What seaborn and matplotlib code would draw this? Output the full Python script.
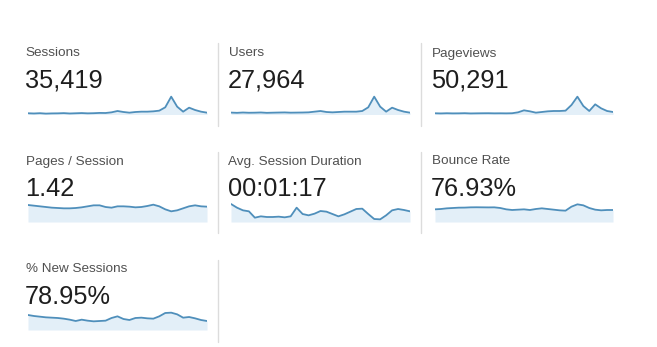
import matplotlib
matplotlib.use("Agg")
import matplotlib.pyplot as plt
from matplotlib.lines import Line2D
import seaborn as sns
import pandas as pd

sns.set_theme(style="white")
plt.rcParams['font.family'] = ['Liberation Sans', 'DejaVu Sans']

# ---- data ----
days = list(range(1, 32))

metric_names = ["Sessions", "Users", "Pageviews",
                "Pages / Session", "Avg. Session Duration", "Bounce Rate",
                "% New Sessions"]
metric_totals = ["35,419", "27,964", "50,291",
                 "1.42", "00:01:17", "76.93%",
                 "78.95%"]

sessions = [905, 890, 910, 880, 895, 900, 915, 890, 905, 920, 900, 910, 930,
            924, 972, 1068, 996, 948, 996, 1020, 1020, 1044, 1092, 1332, 2100,
            1380, 1020, 1308, 1140, 1020, 948]
users = [705, 690, 710, 695, 700, 712, 690, 700, 708, 715, 700, 705, 710,
         720, 760, 800, 740, 720, 740, 760, 760, 760, 800, 1020, 1660,
         1060, 760, 1000, 860, 760, 700]
pageviews = [1255, 1240, 1260, 1245, 1250, 1265, 1240, 1250, 1258, 1262, 1250,
             1255, 1248, 1260, 1355, 1565, 1460, 1320, 1390, 1460, 1495, 1495,
             1530, 2125, 3000, 2020, 1495, 2195, 1775, 1495, 1390]
pages_per_session = [1.47, 1.45, 1.43, 1.41, 1.39, 1.38, 1.37, 1.37, 1.38, 1.40,
                     1.43, 1.46, 1.46, 1.41, 1.39, 1.43, 1.43, 1.42, 1.40, 1.41,
                     1.44, 1.48, 1.43, 1.34, 1.28, 1.31, 1.37, 1.43, 1.46, 1.43,
                     1.42]
avg_duration_sec = [107, 96, 88, 85, 66, 70, 68, 68, 69, 67, 70, 96, 77, 73, 78,
                    86, 84, 77, 70, 76, 84, 92, 93, 77, 62, 61, 73, 88, 92, 89, 85]
bounce_rate = [75.9, 76.4, 77.4, 77.9, 78.4, 78.5, 78.9, 79.0, 78.9, 78.8, 78.9,
               77.9, 75.9, 74.9, 75.4, 75.9, 74.9, 76.4, 77.4, 76.4, 75.4, 74.4,
               73.9, 79.9, 83.4, 81.9, 77.9, 75.4, 74.4, 74.9, 74.9]
new_sessions_pct = [83.5, 82.0, 81.0, 80.0, 79.5, 79.0, 78.0, 76.5, 74.5, 76.5,
                    75.0, 74.0, 74.5, 75.0, 79.0, 81.5, 77.5, 76.0, 79.0, 79.5,
                    78.5, 78.0, 81.5, 86.5, 87.0, 84.5, 79.5, 80.5, 78.5, 76.0,
                    74.5]

series = [sessions, users, pageviews, pages_per_session, avg_duration_sec,
          bounce_rate, new_sessions_pct]
ylims = [(816, 2292), (590, 1820), (1127, 3280),
         (0.96, 1.56), (53, 113), (56.9, 86.9),
         (61.0, 91.0)]

# ---- layout (pixels) ----
W, H = 657, 347
fig = plt.figure(figsize=(W / 100, H / 100), dpi=100)
fig.patch.set_facecolor("white")

LINE = "#4f8fbb"
FILL = "#e3eff8"

col_line_x = [(28, 207), (231, 410), (435, 613)]
col_text_x = [25.5, 228.5, 431.5]
row_off = [0, 108, 216]


def fx(x):
    return x / W


def fy(y):
    return 1 - y / H


for i, (name, total, vals, ylim) in enumerate(zip(metric_names, metric_totals,
                                                   series, ylims)):
    r, c = divmod(i, 3)
    dy = row_off[r]
    # texts
    fig.text(fx(col_text_x[c]), fy(56.5 + dy), name, fontsize=9.7,
             color="#505050", va="baseline", ha="left")
    fig.text(fx(col_text_x[c] - 0.5), fy(87.5 + dy), total, fontsize=18.3,
             color="#1e1e1e", va="baseline", ha="left")
    # sparkline
    x0, x1 = col_line_x[c]
    ytop, ybot = 94 + dy, 114.5 + dy
    if r > 0:
        ytop, ybot = 202 + dy - 108, 222 + dy - 108
    ax = fig.add_axes([fx(x0), fy(ybot), (x1 - x0) / W, (ybot - ytop) / H])
    df = pd.DataFrame({"day": days, "value": vals})
    ax.fill_between(df["day"], df["value"], ylim[0], color=FILL, lw=0)
    sns.lineplot(data=df, x="day", y="value", ax=ax, color=LINE, linewidth=1.3)
    ax.set_xlim(1, 31)
    ax.set_ylim(*ylim)
    ax.axis("off")

# separators
for x, spans in [(217.5, [(43, 126), (152, 233), (260, 342)]),
                 (421, [(43, 126), (152, 233)])]:
    for y0, y1 in spans:
        fig.add_artist(Line2D([fx(x), fx(x)], [fy(y0), fy(y1)],
                              color="#dcdcdc", lw=1.0))

fig.savefig("out.png", dpi=100, facecolor="white")
